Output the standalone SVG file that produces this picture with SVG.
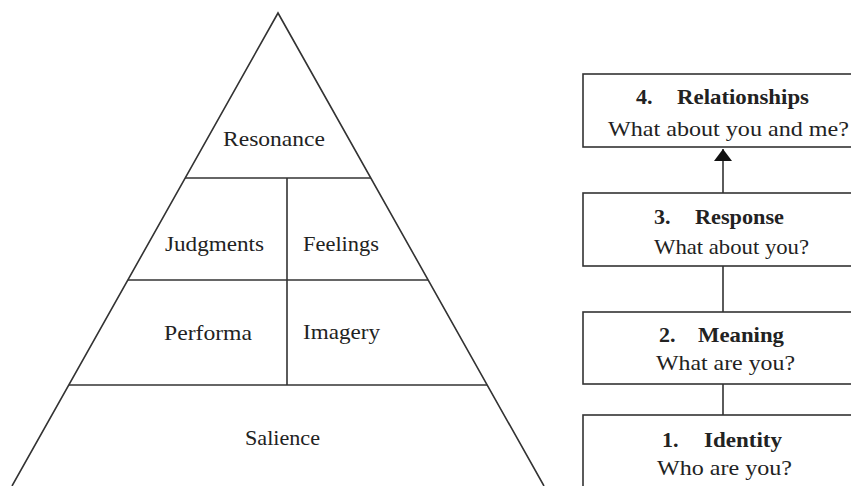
<svg xmlns="http://www.w3.org/2000/svg" width="851" height="486" viewBox="0 0 851 486">
<style>
.ln{stroke:#333;stroke-width:1.6;fill:none}
.bx{stroke:#333;stroke-width:1.6;fill:#fff}
text{font-family:"Liberation Serif","Times New Roman",serif;font-size:22px;fill:#222}
.b{font-weight:bold}
</style>
<defs>
<marker id="ah" viewBox="0 0 12 18" refX="12" refY="9" markerWidth="12" markerHeight="18" markerUnits="userSpaceOnUse" orient="auto">
<path d="M0,0 L12,9 L0,18 Z" fill="#111"/>
</marker>
</defs>
<rect width="851" height="486" fill="#fff"/>
<g id="pyramid">
<polyline class="ln" points="12,486 278,13 544,486"/>
<line class="ln" x1="185" y1="178" x2="371" y2="178"/>
<line class="ln" x1="128" y1="280" x2="428" y2="280"/>
<line class="ln" x1="69" y1="385" x2="487" y2="385"/>
<line class="ln" x1="287" y1="178" x2="287" y2="385"/>
</g>
<g id="resonance"><text x="223" y="146" textLength="102" lengthAdjust="spacingAndGlyphs">Resonance</text></g>
<g id="judgments"><text x="165" y="251" textLength="99" lengthAdjust="spacingAndGlyphs">Judgments</text></g>
<g id="feelings"><text x="303" y="251" textLength="76" lengthAdjust="spacingAndGlyphs">Feelings</text></g>
<g id="performa"><text x="164" y="340" textLength="88" lengthAdjust="spacingAndGlyphs">Performa</text></g>
<g id="imagery"><text x="303" y="339" textLength="77" lengthAdjust="spacingAndGlyphs">Imagery</text></g>
<g id="salience"><text x="245" y="445" textLength="75" lengthAdjust="spacingAndGlyphs">Salience</text></g>
<g id="connectors">
<line class="ln" x1="723" y1="193" x2="723" y2="149" marker-end="url(#ah)"/>
<line class="ln" x1="723" y1="266" x2="723" y2="312"/>
<line class="ln" x1="723" y1="384" x2="723" y2="415"/>
</g>
<g id="box4">
<rect class="bx" x="583" y="74" width="290" height="73"/>
<text class="b" x="636" y="104">4.</text>
<text class="b" x="677" y="104" textLength="132" lengthAdjust="spacingAndGlyphs">Relationships</text>
<text x="608" y="136" textLength="241" lengthAdjust="spacingAndGlyphs">What about you and me?</text>
</g>
<g id="box3">
<rect class="bx" x="583" y="193" width="290" height="73"/>
<text class="b" x="654" y="224">3.</text>
<text class="b" x="695" y="224" textLength="89" lengthAdjust="spacingAndGlyphs">Response</text>
<text x="654" y="254" textLength="155" lengthAdjust="spacingAndGlyphs">What about you?</text>
</g>
<g id="box2">
<rect class="bx" x="583" y="312" width="290" height="72"/>
<text class="b" x="659" y="342">2.</text>
<text class="b" x="698" y="342" textLength="86" lengthAdjust="spacingAndGlyphs">Meaning</text>
<text x="656" y="370" textLength="139" lengthAdjust="spacingAndGlyphs">What are you?</text>
</g>
<g id="box1">
<rect class="bx" x="583" y="415" width="290" height="90"/>
<text class="b" x="662" y="447">1.</text>
<text class="b" x="704" y="447" textLength="78" lengthAdjust="spacingAndGlyphs">Identity</text>
<text x="657" y="475" textLength="135" lengthAdjust="spacingAndGlyphs">Who are you?</text>
</g>
</svg>
